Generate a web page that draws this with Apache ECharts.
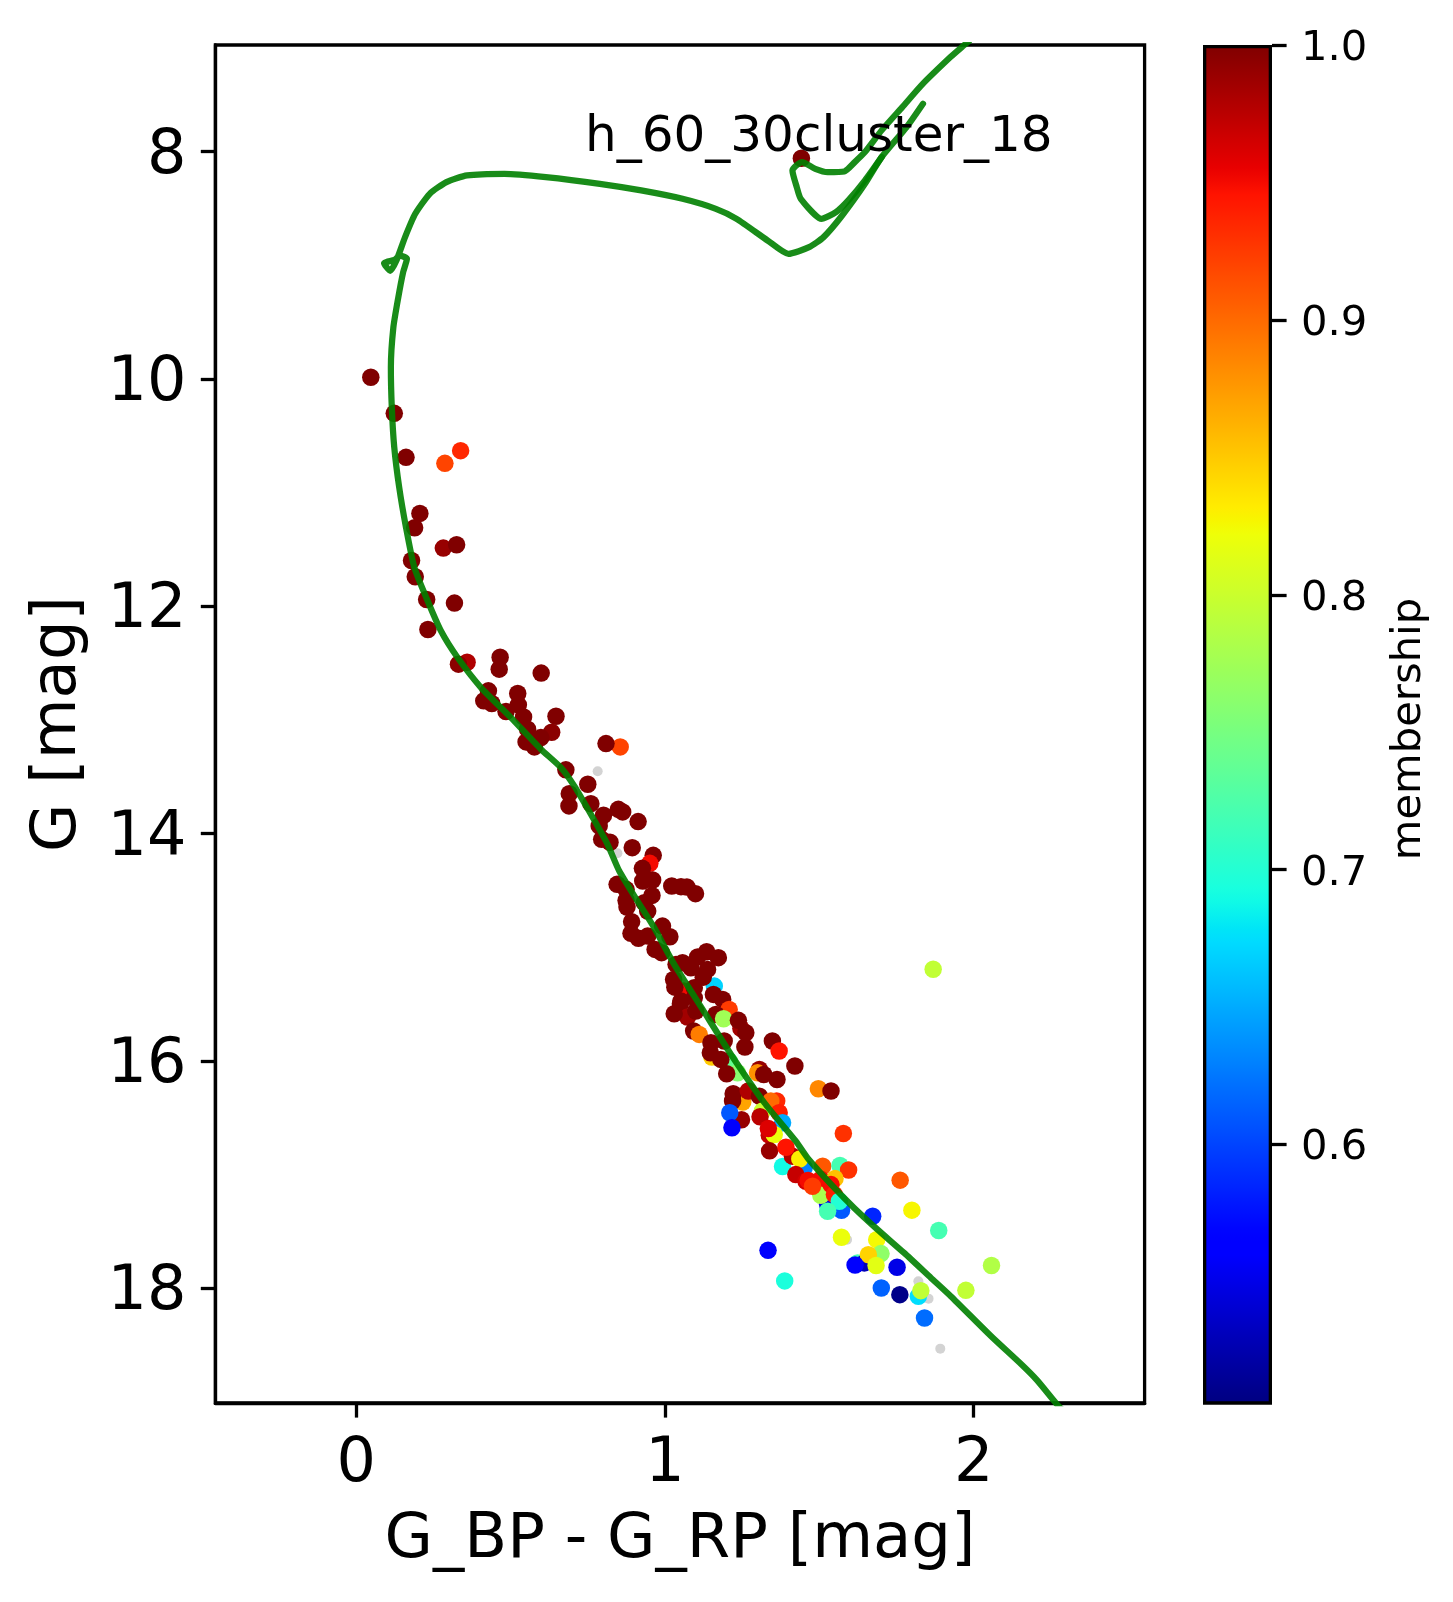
<!DOCTYPE html>
<html><head><meta charset="utf-8">
<style>html,body{margin:0;padding:0;background:#fff}#c{width:1453px;height:1602px}</style>
<script src="https://cdn.jsdelivr.net/npm/echarts@6/dist/echarts.min.js"></script>
</head><body><div id="c"></div>
<script>
// [G_BP-G_RP, G, membership]
const upperStars = [
[1.442,8.06,1],[0.047,9.987,1],[0.123,10.304,1],[0.161,10.691,1],[0.338,10.632,0.935],[0.287,10.744,0.92],
[0.206,11.184,1],[0.189,11.31,1],[0.282,11.489,0.99],[0.325,11.46,1],[0.179,11.598,1],[0.191,11.741,1],
[0.228,11.941,1],[0.318,11.973,1],[0.232,12.205,1],[0.359,12.493,0.98],[0.331,12.51,0.995],[0.466,12.449,1],
[0.463,12.554,1],[0.599,12.589,1],[0.428,12.745,1],[0.413,12.833,1],[0.439,12.856,1],[0.523,12.768,1],
[0.525,12.868,1],[0.485,12.927,1],[0.542,12.974,1],[0.647,12.968,1],[0.633,13.109,0.995],[0.555,13.082,1],
[0.598,13.156,1],[0.55,13.194,1],[0.577,13.238,1],[0.855,13.238,0.92],[0.809,13.209,1]
];
const middleStars = [
[0.679,13.44,1],[0.75,13.567,1],[0.69,13.649,1],[0.689,13.757,1],[0.76,13.737,1],[0.801,13.839,1],
[0.849,13.787,1],[0.863,13.81,1],[0.787,13.933,1],[0.913,13.895,1],[0.795,14.051,1],[0.822,14.077,1],
[0.894,14.124,1],[0.962,14.192,1],[0.951,14.262,0.95],[0.927,14.306,1],[0.96,14.409,1],[0.928,14.417,1],
[0.845,14.447,1],[1.022,14.461,1],[1.052,14.467,1],[1.071,14.47,1],[1.099,14.529,1],[0.958,14.544,1],
[0.874,14.491,1],[0.874,14.588,1],[0.933,14.608,1],[0.877,14.646,1],[0.944,14.682,1],[0.892,14.775,1],
[0.992,14.814,1],[0.89,14.878,1],[0.914,14.922,1],[0.944,14.902,1],[1.016,14.908,1],[0.968,15.019,1],
[0.989,15.048,1],[1.16,15.342,0.67],[1.061,15.386,0.95],[1.135,15.04,1],[1.173,15.092,1],[1.106,15.086,1],
[1.036,15.151,1],[1.057,15.136,1],[1.084,15.18,1],[1.138,15.195,1],[1.028,15.283,1],[1.124,15.263,1],
[1.032,15.351,1],[1.095,15.356,1],[1.157,15.415,1],[1.187,15.459,1],[1.052,15.474,1],[1.095,15.445,1]
];
const lowerStars = [
[1.869,15.194,0.795],[1.208,15.547,0.925],[1.05,15.497,1],[1.073,15.614,0.985],[1.03,15.585,1],[1.1,15.561,1],
[1.165,15.591,1],[1.19,15.629,0.775],[1.246,15.714,0.985],[1.238,15.643,1],[1.262,15.752,1],[1.093,15.737,1],
[1.111,15.767,0.89],[1.259,15.878,1],[1.348,15.825,1],[1.37,15.913,0.945],[1.421,16.045,1],[1.192,15.825,1],
[1.149,15.84,1],[1.152,15.966,0.85],[1.208,16.0,0.74],[1.147,15.928,1],[1.181,15.987,1],[1.235,16.104,0.76],
[1.2,16.113,1],[1.306,16.075,0.99],[1.3,16.104,0.88],[1.32,16.119,1],[1.363,16.163,1],[1.497,16.245,0.885],
[1.538,16.265,1],[1.252,16.362,0.87],[1.221,16.289,1],[1.219,16.353,1],[1.248,16.518,0.99],[1.27,16.265,0.98],
[1.306,16.31,1],[1.316,16.441,0.8],[1.362,16.353,0.935],[1.343,16.353,0.9],[1.37,16.456,0.94],[1.381,16.544,0.65],
[1.21,16.456,0.61],[1.217,16.588,0.56],[1.308,16.491,0.975],[1.338,16.653,0.97],[1.354,16.647,0.82],[1.335,16.594,0.96],
[1.578,16.638,0.93],[1.339,16.791,0.99],[1.381,16.929,0.69],[1.413,16.838,0.98],[1.392,16.759,0.945],[1.451,16.94,0.63],
[1.437,16.862,0.83],[1.511,16.926,0.91],[1.567,16.92,0.72],[1.424,17.0,0.97],[1.457,17.058,0.965],[1.505,17.04,0.95],
[1.595,16.959,0.93],[1.527,17.26,0.55],[1.505,17.182,0.78],[1.551,17.035,0.855],[1.538,17.088,0.95],[1.549,17.176,0.94],
[1.572,17.314,0.61],[1.565,17.234,0.7],[1.527,17.322,0.72],[1.464,17.052,0.95],[1.478,17.102,0.925],[1.673,17.366,0.585],
[1.762,17.049,0.91],[1.8,17.313,0.827],[1.887,17.492,0.72],[1.572,17.551,0.82],[1.334,17.666,0.56],[1.388,17.935,0.695],
[1.686,17.572,0.825],[1.624,17.777,0.72],[1.646,17.777,0.53],[1.7,17.695,0.765],[1.659,17.704,0.845],[1.616,17.795,0.56],
[1.684,17.8,0.815],[1.752,17.815,0.55],[1.701,17.997,0.615],[1.761,18.056,0.51],[1.821,18.07,0.675],[1.829,18.021,0.795],
[1.975,18.018,0.795],[2.058,17.8,0.785],[1.841,18.261,0.62]
];
const faintStars = [[0.782,13.452],[0.846,14.174],[1.59,17.572],[1.821,17.938],[1.854,18.091],[1.892,18.531]];

const isochroneMain = [
[2.3,19.1],[2.273,19.03],[2.206,18.81],[2.157,18.675],[2.056,18.42],[1.926,18.07],[1.862,17.909],[1.775,17.689],[1.689,17.484],
[1.613,17.293],[1.549,17.117],[1.462,16.853],[1.424,16.706],[1.322,16.368],[1.214,15.943],[1.122,15.547],[1.03,15.151],
[0.965,14.828],[0.911,14.594],[0.852,14.33],[0.814,14.095],[0.76,13.831],[0.706,13.581],[0.663,13.42],[0.598,13.258],
[0.501,12.98],[0.404,12.716],[0.328,12.452],[0.274,12.217],[0.231,11.953],[0.188,11.659],[0.161,11.307],[0.139,10.955],
[0.123,10.603],[0.115,10.251],[0.112,9.899],[0.12,9.55],[0.135,9.3],[0.152,9.06],[0.164,8.945],[0.141,8.916],[0.124,8.954],
[0.09,8.983],[0.11,9.05],[0.13,8.96],[0.158,8.754],[0.191,8.549],[0.238,8.373],[0.292,8.27],[0.359,8.211],[0.48,8.197],
[0.614,8.226],[0.789,8.285],[0.923,8.343],[1.057,8.417],[1.165,8.505],[1.232,8.593],[1.333,8.784],[1.4,8.901],
[1.467,8.842],[1.514,8.754],[1.574,8.564],[1.648,8.285],[1.702,8.05],[1.783,7.786],[1.836,7.581]
];
const isochroneLoop = [
[1.985,7.03],[1.962,7.082],[1.925,7.17],[1.836,7.404],[1.769,7.61],[1.702,7.815],[1.648,8.006],[1.615,8.094],[1.581,8.176],
[1.527,8.182],[1.487,8.153],[1.444,8.094],[1.413,8.167],[1.427,8.314],[1.44,8.417],[1.507,8.593],[1.554,8.534],
[1.594,8.431],[1.648,8.255],[1.702,8.05]
];
const xTicks = [0,1,2];
const yTicks = [8,10,12,14,16,18];
const barTicks = [0.6,0.7,0.8,0.9,1.0];
const memberMin = 0.506, memberMax = 1.0;
const labelText = 'h_60_30cluster_18';

function interp(t, pts){
  for(let i=1;i<pts.length;i++){ if(t<=pts[i][0]){
    const a=pts[i-1],b=pts[i]; return a[1]+(b[1]-a[1])*(t-a[0])/(b[0]-a[0]); } }
  return pts[pts.length-1][1];
}
const R=[[0,0],[.35,0],[.66,1],[.89,1],[1,.5]],G=[[0,0],[.125,0],[.375,1],[.64,1],[.91,0],[1,0]],B=[[0,.5],[.11,1],[.34,1],[.65,0],[1,0]];
function jet(t){return 'rgb('+[R,G,B].map(p=>Math.round(255*interp(t,p))).join(',')+')';}
const jetColors=[];for(let i=0;i<=100;i++)jetColors.push(jet(i/100));
const FONT='DejaVu Sans';
const chart=echarts.init(document.getElementById('c'),null,{renderer:'canvas'});
const line=(d)=>({type:'line',data:d,xAxisIndex:0,yAxisIndex:0,showSymbol:false,symbol:'none',smooth:0.2,silent:true,z:5,
  lineStyle:{color:'#008000',opacity:0.9,width:6.25,cap:'round',join:'round'},animation:false});
chart.setOption({
  animation:false,backgroundColor:'#fff',
  grid:[
    {left:215.4,top:45,width:929.2,height:1358,show:true,borderColor:'#000',borderWidth:3.3,backgroundColor:'transparent',containLabel:false,outerBoundsMode:'none'},
    {left:1203,top:45,width:69,height:1358,outerBoundsMode:'none'}
  ],
  xAxis:[
    {gridIndex:0,type:'value',min:-0.4565,max:2.554,splitLine:{show:false},
     axisLine:{show:true,onZero:false,lineStyle:{color:'#000',width:3.3}},
     axisTick:{show:true,length:14.6,customValues:xTicks,lineStyle:{color:'#000',width:3.3}},
     axisLabel:{customValues:xTicks,color:'#000',fontFamily:FONT,fontSize:62,margin:31,formatter:v=>String(v)},
     name:'G_BP - G_RP [mag]',nameLocation:'middle',nameGap:106,nameTextStyle:{color:'#000',fontFamily:FONT,fontSize:62.5}},
    {gridIndex:1,type:'category',data:['bar'],show:false}
  ],
  yAxis:[
    {gridIndex:0,type:'value',inverse:true,min:7.064,max:19.009,splitLine:{show:false},
     axisLine:{show:true,onZero:false,lineStyle:{color:'#000',width:3.3}},
     axisTick:{show:true,length:14.6,customValues:yTicks,lineStyle:{color:'#000',width:3.3}},
     axisLabel:{customValues:yTicks,margin:29,formatter:v=>'{v|'+v+'}',
       rich:{v:{color:'#000',fontFamily:FONT,fontSize:62,padding:[10,0,0,0]}}},
     name:'G [mag]',nameLocation:'middle',nameGap:125,nameTextStyle:{color:'#000',fontFamily:FONT,fontSize:62.5}},
    {gridIndex:1,type:'value',position:'right',min:memberMin,max:memberMax,splitLine:{show:false},
     axisLine:{show:false},
     axisTick:{show:true,length:14.6,customValues:barTicks,lineStyle:{color:'#000',width:3.3}},
     axisLabel:{customValues:barTicks,margin:29,formatter:v=>'{v|'+v.toFixed(1)+'}',
       rich:{v:{color:'#000',fontFamily:FONT,fontSize:41.7,padding:[8,0,0,0]}}},
     name:'membership',nameLocation:'middle',nameRotate:90,nameGap:116,nameTextStyle:{color:'#000',fontFamily:FONT,fontSize:41.7,padding:[0,10,0,0]}}
  ],
  visualMap:[{show:false,type:'continuous',seriesIndex:[0],dimension:2,min:memberMin,max:memberMax,inRange:{color:jetColors}}],
  series:[
    {type:'scatter',xAxisIndex:0,yAxisIndex:0,symbolSize:17.5,data:upperStars.concat(middleStars,lowerStars),z:3,silent:true,itemStyle:{opacity:1},animation:false},
    {type:'scatter',xAxisIndex:0,yAxisIndex:0,symbolSize:10,data:faintStars,z:2,silent:true,itemStyle:{color:'#d3d3d3',opacity:1},animation:false},
    line(isochroneMain),
    line(isochroneLoop),
    {type:'bar',xAxisIndex:1,yAxisIndex:1,data:[memberMax],barWidth:'100%',silent:true,z:2,animation:false,
     itemStyle:{borderColor:'#000',borderWidth:3.3,
       color:new echarts.graphic.LinearGradient(0,1,0,0,jetColors.map((c,i)=>({offset:i/100,color:c})))}}
  ],
  graphic:[{type:'text',z:100,left:585,top:113,style:{text:labelText,fill:'#000',font:'50px "DejaVu Sans"'}}]
});
</script></body></html>
